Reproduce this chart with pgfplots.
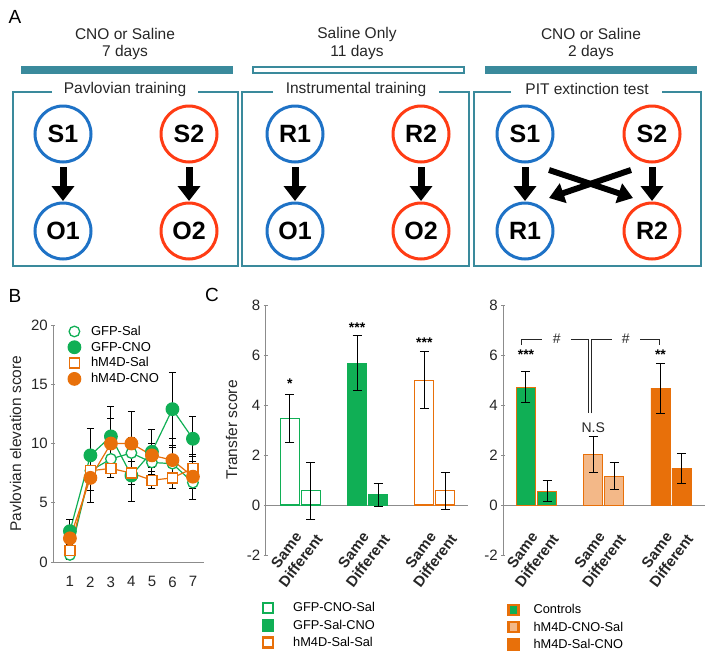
\documentclass[border=0pt]{standalone}
\usepackage{fontspec}
\setmainfont{Liberation Sans}
\usepackage{pgfplots}
\pgfplotsset{compat=1.18}
\usetikzlibrary{arrows.meta}

\definecolor{tealb}{HTML}{3A8A9C}
\definecolor{cblue}{HTML}{1E72C6}
\definecolor{cred}{HTML}{FF3C14}
\definecolor{cgreen}{HTML}{10AF55}
\definecolor{corange}{HTML}{E8700A}
\definecolor{cpeach}{HTML}{F3B888}
\definecolor{axgray}{HTML}{8C8C8C}

\pgfplotsset{
  myax/.style={scale only axis, clip=false, anchor=south west,
    axis line style={axgray, line width=0.8pt, -},
    x axis line style={-}, y axis line style={-},
    tick style={axgray, line width=0.8pt}, tick align=outside, major tick length=4pt,
    ticklabel style={font=\fontsize{15}{18}\selectfont, text=black!85},
    /pgf/number format/assume math mode=true,
    label style={font=\fontsize{15.5}{18}\selectfont, text=black!85},
    error bars/error bar style={black, line width=1pt},
    error bars/error mark options={rotate=90, black, mark size=4.5pt, line width=1pt}},
  barleg/.style={legend image code/.code={\draw[##1, line width=2.6pt] (1.5pt,-5pt) rectangle (11.5pt,5pt); \path (0pt,0pt) (#1,0pt);}},
  cleg/.style={legend style={draw=none, fill=none, inner sep=0pt, row sep=2.5pt,
     font=\fontsize{12.8}{15}\selectfont, cells={anchor=west}}},
}
\newcommand{\circn}[4]{\draw[#3, line width=3pt] (#1,#2) circle (28pt);
  \node[font=\bfseries\fontsize{25}{28}\selectfont] at (#1,#2) {#4};}
\newcommand{\darr}[1]{\draw[line width=7pt, -{Triangle[width=22pt,length=15pt]}] (#1,167) -- (#1,201);}
\newcommand{\sdlabels}{%
  \node[rotate=53, anchor=east] at (axis cs:0.5,-1.05) {Same};
  \node[rotate=53, anchor=east] at (axis cs:1.49,-1.13) {Different};
  \node[rotate=53, anchor=east] at (axis cs:3.7,-1.05) {Same};
  \node[rotate=53, anchor=east] at (axis cs:4.69,-1.13) {Different};
  \node[rotate=53, anchor=east] at (axis cs:6.9,-1.05) {Same};
  \node[rotate=53, anchor=east] at (axis cs:7.89,-1.13) {Different};}

\begin{document}
\begin{tikzpicture}
\useasboundingbox (0,0) rectangle (714pt,-654pt);
\begin{scope}[x=1pt,y=-1pt]
  \node[font=\fontsize{19}{22}\selectfont] at (15,17) {A};
  \node[font=\fontsize{19}{22}\selectfont] at (15,296) {B};
  \node[font=\fontsize{19}{22}\selectfont] at (212,295) {C};
  \begin{scope}[font=\fontsize{15.5}{18}\selectfont, text=black!85]
    \node at (125,34) {CNO or Saline}; \node at (125,52) {7 days};
    \node at (357,34) {Saline Only}; \node at (357,52) {11 days};
    \node at (591,34) {CNO or Saline}; \node at (591,52) {2 days};
    \node at (125,89) {Pavlovian training};
    \node at (356,89) {Instrumental training};
    \node at (587,89) {PIT extinction test};
  \end{scope}
  \fill[tealb] (21,66) rectangle (233,74);
  \draw[tealb, line width=2pt] (253,67) rectangle (464,73);
  \fill[tealb] (485,66) rectangle (697,74);
  \draw[tealb, line width=2.7pt] (52,92) -- (13,92) -- (13,266) -- (238,266) -- (238,92) -- (198,92);
  \draw[tealb, line width=2.7pt] (273,92) -- (242,92) -- (242,266) -- (469,266) -- (469,92) -- (439,92);
  \draw[tealb, line width=2.7pt] (511,92) -- (474,92) -- (474,266) -- (701,266) -- (701,92) -- (662,92);
  \circn{63}{134}{cblue}{S1} \circn{189}{134}{cred}{S2}
  \circn{63}{231}{cblue}{O1} \circn{189}{231}{cred}{O2}
  \circn{295}{134}{cblue}{R1} \circn{421}{134}{cred}{R2}
  \circn{295}{231}{cblue}{O1} \circn{421}{231}{cred}{O2}
  \circn{525}{134}{cblue}{S1} \circn{652}{134}{cred}{S2}
  \circn{525}{231}{cblue}{R1} \circn{652}{231}{cred}{R2}
  \darr{63} \darr{189} \darr{295} \darr{421} \darr{525} \darr{652}
  \draw[line width=6pt, -{Triangle[width=20pt,length=15pt]}] (549,170) -- (633,198);
  \draw[line width=6pt, -{Triangle[width=20pt,length=15pt]}] (631,170) -- (549,198);
\end{scope}

% ---------------- Panel B ----------------
\begin{axis}[myax, at={(53.3pt,-562pt)}, width=150.7pt, height=237pt,
  xmin=0.19, xmax=7.54, ymin=0, ymax=20,
  axis x line=bottom, axis y line=left,
  x axis line style={-}, y axis line style={-},
  xtick={1,...,7}, ytick={0,5,10,15,20},
  x tick style={draw=none}, xticklabel style={yshift=-9pt},
  ylabel={Pavlovian elevation score},
  ylabel style={at={(axis description cs:-0.25,0.5)}, anchor=center},
  error bars/error mark options={rotate=90, black, mark size=3.5pt, line width=1pt},
  legend style={at={(axis description cs:0.095,1.005)}, anchor=north west, draw=none, fill=none,
    inner sep=0pt, row sep=1pt, font=\fontsize{13}{15.5}\selectfont, cells={anchor=west}},
  legend image code/.code={\draw[#1] plot coordinates {(6pt,0pt)}; \path (0pt,0pt) (20pt,0pt);},
]
\addplot[cgreen, line width=1.2pt, mark=*, mark size=5.3pt, mark options={fill=white, line width=1.3pt},
  error bars/.cd, y dir=both, y explicit] coordinates {
  (1,0.6) +- (0,0.4) (2,7.7) +- (0,1.0) (3,8.7) +- (0,1.0) (4,9.2) +- (0,1.3)
  (5,8.4) +- (0,1.0) (6,8.3) +- (0,1.4) (7,6.7) +- (0,0.5)};
\addlegendentry{GFP-Sal}
\addplot[cgreen, line width=1.2pt, mark=*, mark size=6.3pt, mark options={fill=cgreen},
  error bars/.cd, y dir=both, y explicit] coordinates {
  (1,2.6) +- (0,1.0) (2,9.0) +- (0,2.3) (3,10.6) +- (0,2.5) (4,7.3) +- (0,2.2)
  (5,9.3) +- (0,1.9) (6,12.9) +- (0,3.1) (7,10.4) +- (0,1.9)};
\addlegendentry{GFP-CNO}
\addplot[corange, line width=1.2pt, mark=square*, mark size=5pt, mark options={fill=white, line width=1.3pt},
  error bars/.cd, y dir=both, y explicit] coordinates {
  (1,1.0) +- (0,0.5) (2,7.7) +- (0,1.7) (3,7.9) +- (0,0.8) (4,7.5) +- (0,1.0)
  (5,6.9) +- (0,0.7) (6,7.1) +- (0,0.9) (7,7.9) +- (0,1.0)};
\addlegendentry{hM4D-Sal}
\addplot[corange, line width=1.2pt, mark=*, mark size=6.3pt, mark options={fill=corange},
  error bars/.cd, y dir=both, y explicit] coordinates {
  (1,2.0) +- (0,0.9) (2,7.1) +- (0,2.1) (3,10.0) +- (0,2.1) (4,10.0) +- (0,2.7)
  (5,9.0) +- (0,1.0) (6,8.6) +- (0,1.8) (7,7.2) +- (0,1.9)};
\addlegendentry{hM4D-CNO}
\end{axis}

% ---------------- Panel C left ----------------
\begin{axis}[myax, cleg, at={(265.7pt,-555pt)}, width=202.7pt, height=250pt,
  xmin=-1.15, xmax=8.5, ymin=-2, ymax=8,
  axis y line=left, axis x line=none, y axis line style={-}, ytick={-2,0,2,4,6,8},
  ylabel={Transfer score},
  ylabel style={at={(axis description cs:-0.168,0.5)}, anchor=center},
  legend style={at={(axis description cs:-0.025,-0.182)}, anchor=north west},
]
\draw[axgray, line width=0.8pt] (axis cs:-1.15,0) -- (axis cs:8.5,0);
\addplot[ybar, bar width=19pt, bar shift=0pt, draw=cgreen, fill=white, line width=1.3pt, barleg=29pt,
  error bars/.cd, y dir=both, y explicit] coordinates {(0,3.47) +- (0,0.95) (1,0.57) +- (0,1.15)};
\addlegendentry{GFP-CNO-Sal}
\addplot[ybar, bar width=19pt, bar shift=0pt, draw=cgreen, fill=cgreen, line width=0.8pt, barleg=29pt,
  error bars/.cd, y dir=both, y explicit] coordinates {(3.2,5.68) +- (0,1.1) (4.2,0.41) +- (0,0.47)};
\addlegendentry{GFP-Sal-CNO}
\addplot[ybar, bar width=19pt, bar shift=0pt, draw=corange, fill=white, line width=1.3pt, barleg=29pt,
  error bars/.cd, y dir=both, y explicit] coordinates {(6.4,4.99) +- (0,1.14) (7.4,0.57) +- (0,0.75)};
\addlegendentry{hM4D-Sal-Sal}
\node[font=\bfseries\fontsize{14}{16}\selectfont] at (axis cs:0,4.85) {*};
\node[font=\bfseries\fontsize{14}{16}\selectfont] at (axis cs:3.2,7.1) {***};
\node[font=\bfseries\fontsize{14}{16}\selectfont] at (axis cs:6.4,6.5) {***};
\begin{scope}[font=\bfseries\fontsize{15}{17}\selectfont, text=black!85]
  \sdlabels
\end{scope}
\end{axis}

% ---------------- Panel C right ----------------
\begin{axis}[myax, cleg, at={(503.3pt,-555pt)}, width=201.7pt, height=250pt,
  xmin=-1.08, xmax=8.52, ymin=-2, ymax=8,
  axis y line=left, axis x line=none, y axis line style={-}, ytick={-2,0,2,4,6,8},
  legend style={at={(axis description cs:0.015,-0.189)}, anchor=north west},
]
\draw[axgray, line width=0.8pt] (axis cs:-1.08,0) -- (axis cs:8.52,0);
\addplot[ybar, bar width=19pt, bar shift=0pt, draw=corange, fill=cgreen, line width=0.8pt, barleg=24pt,
  error bars/.cd, y dir=both, y explicit] coordinates {(0,4.72) +- (0,0.63) (1,0.56) +- (0,0.43)};
\addlegendentry{Controls}
\addplot[ybar, bar width=19pt, bar shift=0pt, draw=corange, fill=cpeach, line width=1pt, barleg=24pt,
  error bars/.cd, y dir=both, y explicit] coordinates {(3.2,2.04) +- (0,0.72) (4.2,1.16) +- (0,0.55)};
\addlegendentry{hM4D-CNO-Sal}
\addplot[ybar, bar width=19pt, bar shift=0pt, draw=corange, fill=corange, line width=0.8pt, barleg=24pt,
  error bars/.cd, y dir=both, y explicit] coordinates {(6.4,4.68) +- (0,1.0) (7.4,1.48) +- (0,0.6)};
\addlegendentry{hM4D-Sal-CNO}
\node[font=\bfseries\fontsize{14}{16}\selectfont] at (axis cs:0,6.0) {***};
\node[font=\bfseries\fontsize{14}{16}\selectfont] at (axis cs:6.4,6.0) {**};
\node[font=\fontsize{14}{16}\selectfont, text=black!85] at (axis cs:3.2,3.1) {N.S};
\draw[line width=0.9pt, black!85] (axis cs:-0.24,6.4) -- (axis cs:-0.24,6.64) -- (axis cs:0.75,6.64);
\draw[line width=0.9pt, black!85] (axis cs:2.14,6.64) -- (axis cs:2.95,6.64) -- (axis cs:2.95,3.67);
\draw[line width=0.9pt, black!85] (axis cs:3.13,3.67) -- (axis cs:3.13,6.64) -- (axis cs:4.08,6.64);
\draw[line width=0.9pt, black!85] (axis cs:5.43,6.64) -- (axis cs:6.35,6.64) -- (axis cs:6.35,6.4);
\node[font=\fontsize{14}{16}\selectfont, text=black!85] at (axis cs:1.46,6.64) {\#};
\node[font=\fontsize{14}{16}\selectfont, text=black!85] at (axis cs:4.75,6.64) {\#};
\begin{scope}[font=\bfseries\fontsize{15}{17}\selectfont, text=black!85]
  \sdlabels
\end{scope}
\end{axis}
\end{tikzpicture}
\end{document}
